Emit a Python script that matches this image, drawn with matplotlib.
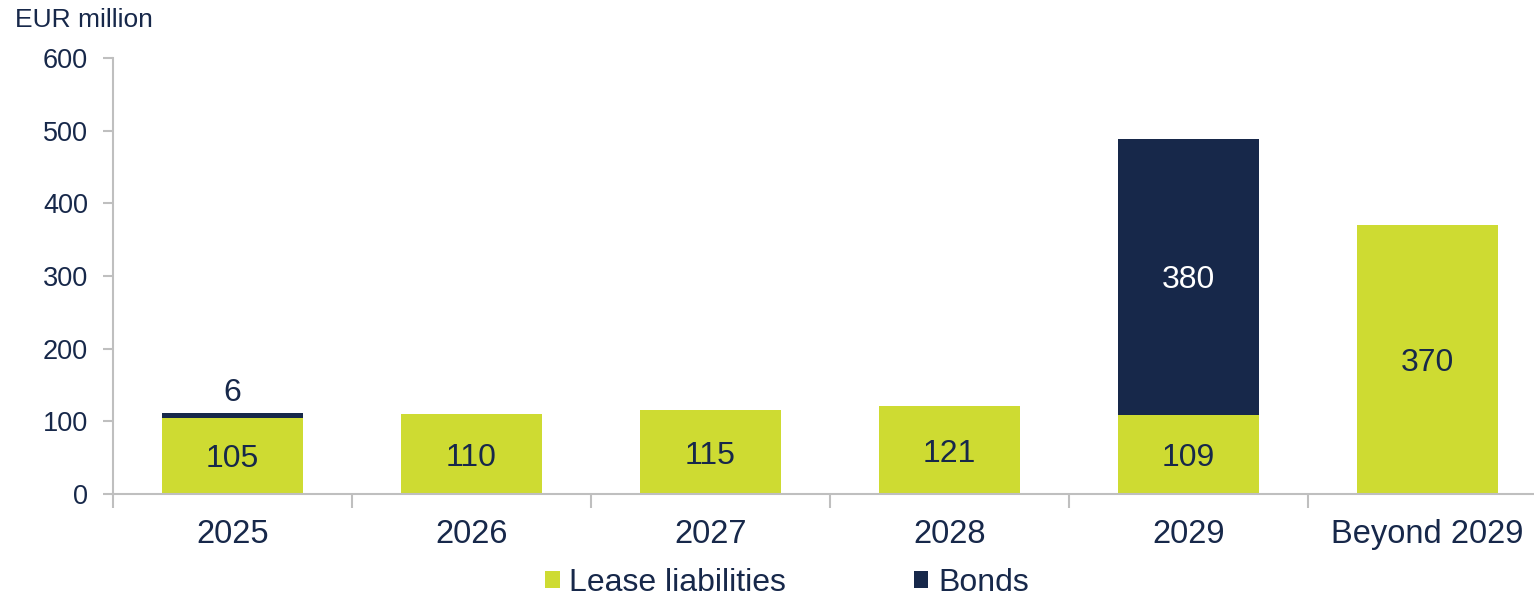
import matplotlib.pyplot as plt
from matplotlib.patches import Patch
import numpy as np

plt.rcParams['font.family'] = ['Liberation Sans', 'DejaVu Sans']

categories = ['2025', '2026', '2027', '2028', '2029', 'Beyond 2029']
lease = [105, 110, 115, 121, 109, 370]
bonds = [6, 0, 0, 0, 380, 0]

GREEN = '#CEDB32'
NAVY = '#17284A'
GREY = '#BFBFBF'

fig = plt.figure(figsize=(15.34, 5.97), dpi=100)
ax = fig.add_axes([113 / 1534, 103 / 597, 1434 / 1534, 436 / 597])

x = np.arange(len(categories))
w = 0.59
ax.bar(x, lease, width=w, color=GREEN, zorder=2)
ax.bar(x, bonds, width=w, bottom=lease, color=NAVY, zorder=2)

# value labels
for i in range(len(categories)):
    ax.text(x[i], lease[i] / 2, str(lease[i]), ha='center',
            va='center_baseline', fontsize=23, color=NAVY)
    if bonds[i] > 0:
        if bonds[i] > 50:
            ax.text(x[i], lease[i] + bonds[i] / 2, str(bonds[i]), ha='center',
                    va='center_baseline', fontsize=23, color='white')
        else:
            ax.text(x[i], lease[i] + bonds[i] + 8, str(bonds[i]), ha='center',
                    va='bottom', fontsize=23, color=NAVY)

ax.set_xlim(-0.5, len(categories) - 0.5)
ax.set_ylim(0, 600)
ax.set_yticks(range(0, 601, 100))
ax.set_xticks(x)
ax.set_xticklabels(categories)
ax.set_xticks(np.arange(-0.5, len(categories), 1), minor=True)

for side in ['top', 'right']:
    ax.spines[side].set_visible(False)
for side in ['left', 'bottom']:
    ax.spines[side].set_color(GREY)
    ax.spines[side].set_linewidth(1.5)

ax.tick_params(axis='y', length=7, width=1.5, color=GREY, labelsize=19.5,
               labelcolor=NAVY, pad=11)
ax.tick_params(axis='x', which='major', length=0, labelsize=23.5,
               labelcolor=NAVY, pad=18)
ax.tick_params(axis='x', which='minor', length=10, width=1.5, color=GREY)

fig.text(15 / 1534, 1 - 20 / 597, 'EUR million', ha='left', va='center',
         fontsize=19, color=NAVY)

handles = [Patch(facecolor=GREEN, edgecolor='none'),
           Patch(facecolor=NAVY, edgecolor='none')]
leg = fig.legend(handles, ['Lease liabilities', 'Bonds'], ncol=2,
                 loc='center', bbox_to_anchor=(787 / 1534, 1 - 583 / 597),
                 frameon=False, fontsize=23, handlelength=0.45,
                 handleheight=0.45, handletextpad=0.3, columnspacing=4.0,
                 borderpad=0)
for t in leg.get_texts():
    t.set_color(NAVY)

fig.savefig('out.png', dpi=100)
